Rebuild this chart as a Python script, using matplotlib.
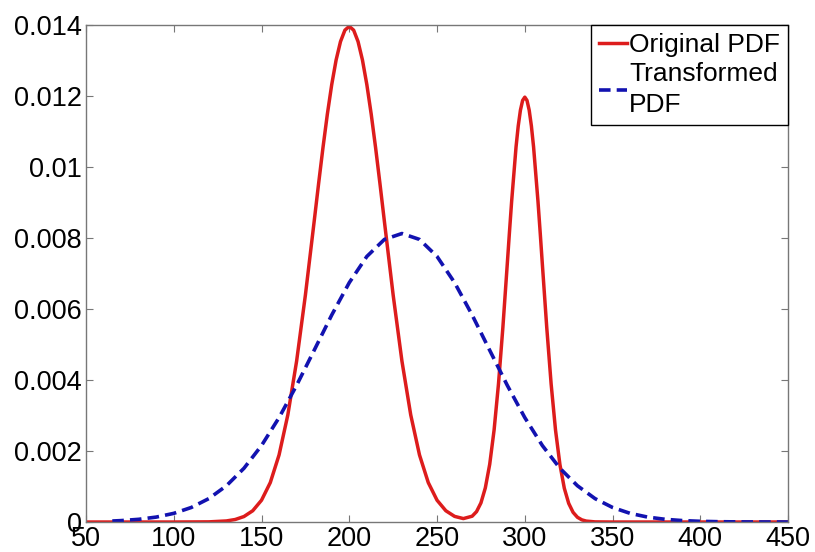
import matplotlib
matplotlib.use('Agg')
import matplotlib.pyplot as plt

plt.rcParams['font.family'] = ['Liberation Sans', 'DejaVu Sans']

# original (bimodal) pdf
orig_x = [50, 100, 120, 130, 135, 140, 145, 150, 155, 160, 165, 170, 175, 180,
          182.5, 185, 187.5, 190, 192.5, 195, 197.5, 200, 202.5, 205, 207.5, 210,
          212.5, 215, 217.5, 220, 225, 230, 235, 240, 245, 250, 255, 260,
          265, 270, 272.5, 275, 277.5, 280, 282.5, 285, 287.5, 290, 291.25, 292.5,
          295, 296.25, 297.5, 298.75, 300, 301.25, 302.5, 303.75, 305, 307.5, 308.75,
          310, 312.5, 315, 317.5, 320, 322.5, 325, 327.5, 330,
          332.5, 335, 340, 350, 400, 450]
orig_y = [0, 0, 0.0000047, 0.0000305, 0.000071, 0.000155, 0.000318, 0.000614, 0.001111,
          0.00189, 0.00302, 0.004533, 0.006393, 0.008469,
          0.009522, 0.01054, 0.011486, 0.012322, 0.013015, 0.013533, 0.013854,
          0.013963, 0.013854, 0.013533, 0.013015, 0.012322,
          0.011486, 0.01054, 0.009522, 0.008469, 0.006393, 0.004533, 0.00302,
          0.00189, 0.001111, 0.000614, 0.000318, 0.000159, 0.000097, 0.000164, 0.000293,
          0.000538, 0.00096, 0.001625, 0.002591, 0.003888, 0.005479, 0.007259, 0.008162,
          0.009034, 0.010562, 0.011155, 0.0116, 0.011875, 0.011968, 0.011875, 0.0116,
          0.011155, 0.010562, 0.009034, 0.008162, 0.007259, 0.005479,
          0.003886, 0.002588, 0.00162, 0.000952, 0.000526, 0.000273, 0.000133, 0.000061,
          0.000026, 0.000004, 0, 0, 0]

# transformed pdf
trans_x = [65, 70, 80, 90, 100, 110, 120, 130, 140, 150, 160, 170, 180, 190, 200, 210,
           220, 230, 240, 250, 260, 270, 280, 290, 300, 310, 320, 330, 340, 350, 360,
           370, 380, 390, 400, 410, 420, 430, 440, 450]
trans_y = [0.0000286, 0.0000401, 0.0000763, 0.000139, 0.000244, 0.00041, 0.00066,
           0.001021, 0.001514, 0.002154, 0.002941, 0.003851, 0.004838, 0.005831,
           0.006743, 0.00748, 0.00796, 0.008127, 0.00796, 0.00748, 0.006743, 0.005831,
           0.004838, 0.003851, 0.002941, 0.002154, 0.001514, 0.001021, 0.00066, 0.00041,
           0.000244, 0.000139, 0.0000763, 0.0000401, 0.0000202, 0.0000098, 0.0000044,
           0.0000018, 0.0000007, 0.0000003]

xticks = [50, 100, 150, 200, 250, 300, 350, 400, 450]
yticks = [0, 0.002, 0.004, 0.006, 0.008, 0.01, 0.012, 0.014]
ytick_labels = ['0', '0.002', '0.004', '0.006', '0.008', '0.01', '0.012', '0.014']

fig = plt.figure(figsize=(8.15, 5.52), dpi=100)
ax = fig.add_axes([0.1055, 0.0543, 0.8615, 0.9004])

ax.plot(orig_x, orig_y, color='#dd1c1c', lw=2.5, label='Original PDF',
        solid_joinstyle='round')
ax.plot(trans_x, trans_y, color='#1212b0', lw=2.6, dashes=(3.2, 1.7),
        label='Transformed\nPDF')

ax.set_xlim(50, 450)
ax.set_ylim(0, 0.014)
ax.set_xticks(xticks)
ax.set_yticks(yticks)
ax.set_yticklabels(ytick_labels)
ax.tick_params(direction='in', length=5, top=True, right=True, labelsize=19.5,
               color='#777777', pad=3)
for s in ax.spines.values():
    s.set_color('#777777')
    s.set_linewidth(1)

leg = ax.legend(loc='upper right', fontsize=19, borderaxespad=0, handlelength=1.05,
                handletextpad=0.1, borderpad=0.3, labelspacing=0.2,
                fancybox=False, framealpha=1)
leg.get_frame().set_edgecolor('black')
leg.get_frame().set_linewidth(1)
leg.get_texts()[1].set_linespacing(1.35)

fig.savefig('out.png', dpi=100)
